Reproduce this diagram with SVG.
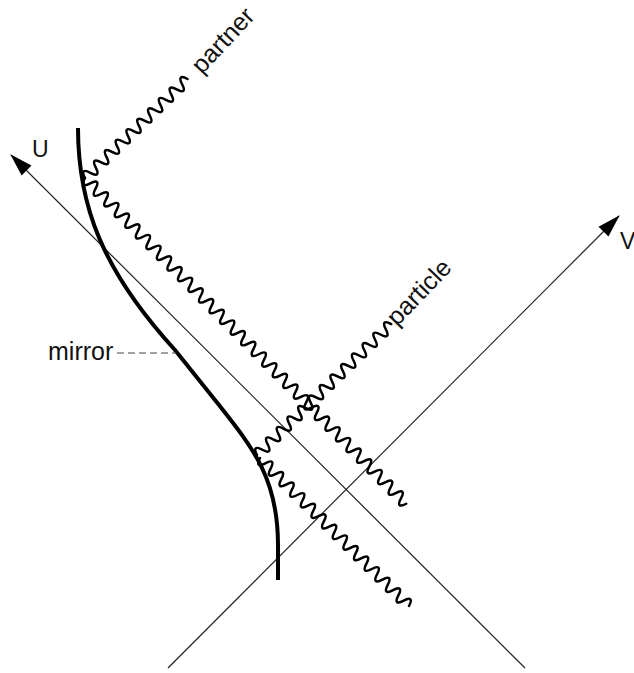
<svg xmlns="http://www.w3.org/2000/svg" width="634" height="673" viewBox="0 0 634 673">
<style>
.axis{fill:none;stroke:#222;stroke-width:1.2}
.wave{fill:none;stroke:#000;stroke-width:2.5;stroke-linecap:round;stroke-linejoin:round}
.mirror{fill:none;stroke:#000;stroke-width:4}
.lbl{font-family:"Liberation Sans",Arial,Helvetica,sans-serif;fill:#111}
</style>
<defs>
<marker id="arr" markerUnits="userSpaceOnUse" markerWidth="24" markerHeight="16" viewBox="0 0 24 16" refX="22" refY="8" orient="auto">
<path d="M0,1 L23,8 L0,15 Z" fill="#000"/>
</marker>
</defs>
<rect width="634" height="673" fill="#fff"/>
<g id="axes">
<line id="axis-U" class="axis" x1="525" y1="668" x2="11" y2="155" marker-end="url(#arr)"/>
<line id="axis-V" class="axis" x1="168" y1="668" x2="619" y2="216" marker-end="url(#arr)"/>
</g>
<g id="mirror">
<path class="mirror" d="M78,128 C78,205 102,270 175,350 L215,400 C255,450 278,480 278,545 L278,580"/>
</g>
<g id="connectors">
<path id="wave-partner" class="wave" transform="translate(85,178) rotate(-44)" d="M0,0 c2.2,-7.5 5.3,-7.5 7.5,0 s5.3,7.5 7.5,0 s5.3,-7.5 7.5,0 s5.3,7.5 7.5,0 s5.3,-7.5 7.5,0 s5.3,7.5 7.5,0 s5.3,-7.5 7.5,0 s5.3,7.5 7.5,0 s5.3,-7.5 7.5,0 s5.3,7.5 7.5,0 s5.3,-7.5 7.5,0 s5.3,7.5 7.5,0 s5.3,-7.5 7.5,0 s5.3,7.5 7.5,0 s5.3,-7.5 7.5,0 s5.3,7.5 7.5,0 s5.3,-7.5 7.5,0 s5.3,7.5 7.5,0 s5.3,-7.5 7.5,0"/>
<path id="wave-in" class="wave" transform="translate(85,178) rotate(45.4)" d="M0,0 c2.2,7.5 5.3,7.5 7.5,0 s5.3,-7.5 7.5,0 s5.3,7.5 7.5,0 s5.3,-7.5 7.5,0 s5.3,7.5 7.5,0 s5.3,-7.5 7.5,0 s5.3,7.5 7.5,0 s5.3,-7.5 7.5,0 s5.3,7.5 7.5,0 s5.3,-7.5 7.5,0 s5.3,7.5 7.5,0 s5.3,-7.5 7.5,0 s5.3,7.5 7.5,0 s5.3,-7.5 7.5,0 s5.3,7.5 7.5,0 s5.3,-7.5 7.5,0 s5.3,7.5 7.5,0 s5.3,-7.5 7.5,0 s5.3,7.5 7.5,0 s5.3,-7.5 7.5,0 s5.3,7.5 7.5,0 s5.3,-7.5 7.5,0 s5.3,7.5 7.5,0 s5.3,-7.5 7.5,0 s5.3,7.5 7.5,0 s5.3,-7.5 7.5,0 s5.3,7.5 7.5,0 s5.3,-7.5 7.5,0 s5.3,7.5 7.5,0 s5.3,-7.5 7.5,0 s5.3,7.5 7.5,0 s5.3,-7.5 7.5,0 s5.3,7.5 7.5,0 s5.3,-7.5 7.5,0 s5.3,7.5 7.5,0 s5.3,-7.5 7.5,0 s5.3,7.5 7.5,0 s5.3,-7.5 7.5,0 s5.3,7.5 7.5,0 s5.3,-7.5 7.5,0 s5.3,7.5 7.5,0 s5.3,-7.5 7.5,0 s5.3,7.5 7.5,0 s5.3,-7.5 7.5,0 s5.3,7.5 7.5,0 s5.3,-7.5 7.5,0 s5.3,7.5 7.5,0 s5.3,-7.5 7.5,0 s5.3,7.5 7.5,0 s5.3,-7.5 7.5,0 s5.3,7.5 7.5,0 s5.3,-7.5 7.5,0 s5.3,7.5 7.5,0 s5.3,-7.5 7.5,0 s5.3,7.5 7.5,0 s5.3,-7.5 7.5,0 s5.3,7.5 7.5,0 s5.3,-7.5 7.5,0 s5.3,7.5 7.5,0 s5.3,-7.5 7.5,0 s5.3,7.5 7.5,0"/>
<path id="wave-particle" class="wave" transform="translate(257,455) rotate(-44.3)" d="M0,0 c2.2,-7.5 5.3,-7.5 7.5,0 s5.3,7.5 7.5,0 s5.3,-7.5 7.5,0 s5.3,7.5 7.5,0 s5.3,-7.5 7.5,0 s5.3,7.5 7.5,0 s5.3,-7.5 7.5,0 s5.3,7.5 7.5,0 s5.3,-7.5 7.5,0 s5.3,7.5 7.5,0 s5.3,-7.5 7.5,0 s5.3,7.5 7.5,0 s5.3,-7.5 7.5,0 s5.3,7.5 7.5,0 s5.3,-7.5 7.5,0 s5.3,7.5 7.5,0 s5.3,-7.5 7.5,0 s5.3,7.5 7.5,0 s5.3,-7.5 7.5,0 s5.3,7.5 7.5,0 s5.3,-7.5 7.5,0 s5.3,7.5 7.5,0 s5.3,-7.5 7.5,0 s5.3,7.5 7.5,0 s5.3,-7.5 7.5,0"/>
<path id="wave-out" class="wave" transform="translate(260,458) rotate(44.8)" d="M0,0 c2.2,7.5 5.3,7.5 7.5,0 s5.3,-7.5 7.5,0 s5.3,7.5 7.5,0 s5.3,-7.5 7.5,0 s5.3,7.5 7.5,0 s5.3,-7.5 7.5,0 s5.3,7.5 7.5,0 s5.3,-7.5 7.5,0 s5.3,7.5 7.5,0 s5.3,-7.5 7.5,0 s5.3,7.5 7.5,0 s5.3,-7.5 7.5,0 s5.3,7.5 7.5,0 s5.3,-7.5 7.5,0 s5.3,7.5 7.5,0 s5.3,-7.5 7.5,0 s5.3,7.5 7.5,0 s5.3,-7.5 7.5,0 s5.3,7.5 7.5,0 s5.3,-7.5 7.5,0 s5.3,7.5 7.5,0 s5.3,-7.5 7.5,0 s5.3,7.5 7.5,0 s5.3,-7.5 7.5,0 s5.3,7.5 7.5,0 s5.3,-7.5 7.5,0 s5.3,7.5 7.5,0 s5.3,-7.5 7.5,0"/>
<line id="mirror-leader" x1="117" y1="353" x2="176" y2="353" stroke="#444" stroke-width="1" stroke-dasharray="7,4"/>
</g>
<g id="labels">
<text class="lbl" x="32" y="157" font-size="23">U</text>
<text class="lbl" x="620" y="249" font-size="23">V</text>
<text class="lbl" x="48" y="360" font-size="25">mirror</text>
<text class="lbl" x="202" y="75" font-size="25" transform="rotate(-47 202 75)">partner</text>
<text class="lbl" x="397" y="327" font-size="25" transform="rotate(-46 397 327)">particle</text>
</g>
</svg>
